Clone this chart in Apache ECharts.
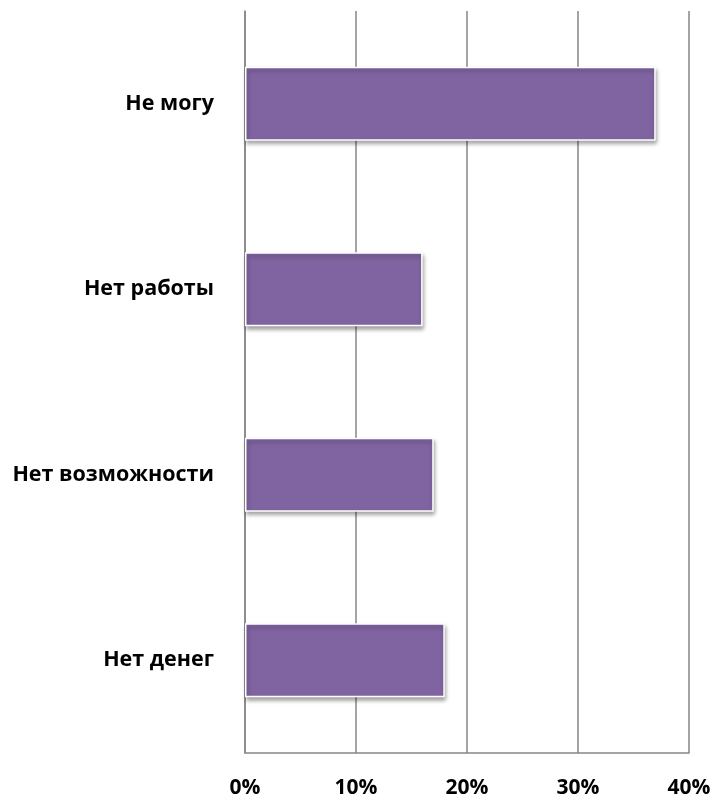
<!DOCTYPE html>
<html>
<head>
<meta charset="utf-8">
<script src="https://cdn.jsdelivr.net/npm/echarts@6/dist/echarts.min.js"></script>
<style>
html, body { margin: 0; padding: 0; background: #fff; }
#main { width: 715px; height: 800px; }
</style>
</head>
<body>
<div id="main"></div>
<script>
var categories = ['Нет денег', 'Нет возможности', 'Нет работы', 'Не могу'];
var values = [18, 17, 16, 37];
var ticks = [0, 10, 20, 30, 40];

(function () {
    var myChart = echarts.init(document.getElementById('main'));
    var font = '"Open Sans", sans-serif';

    var option = {
        animation: false,
        grid: { left: 245, right: 26, top: 11, bottom: 47 },
        xAxis: {
            type: 'value',
            min: ticks[0],
            max: ticks[ticks.length - 1],
            interval: 10,
            axisLine: { show: true, lineStyle: { color: '#868686', width: 1.5 } },
            axisTick: { show: false },
            splitLine: { show: true, lineStyle: { color: '#868686', width: 1.5 } },
            axisLabel: {
                formatter: '{value}%',
                margin: 25,
                color: '#000',
                fontSize: 21,
                fontWeight: 'bold',
                fontFamily: font
            }
        },
        yAxis: {
            type: 'category',
            data: categories,
            axisLine: { show: true, lineStyle: { color: '#868686', width: 1.5 } },
            axisTick: { show: false },
            axisLabel: {
                margin: 31,
                color: '#000',
                fontSize: 21.5,
                fontWeight: 'bold',
                fontFamily: font
            }
        },
        series: [{
            type: 'bar',
            data: values,
            barCategoryGap: '60%',
            itemStyle: {
                color: '#8064A2',
                borderColor: '#fff',
                borderWidth: 1.5,
                shadowColor: 'rgba(0,0,0,0.35)',
                shadowBlur: 4,
                shadowOffsetX: 1,
                shadowOffsetY: 3
            }
        }]
    };

    myChart.setOption(option);
})();
</script>
</body>
</html>
